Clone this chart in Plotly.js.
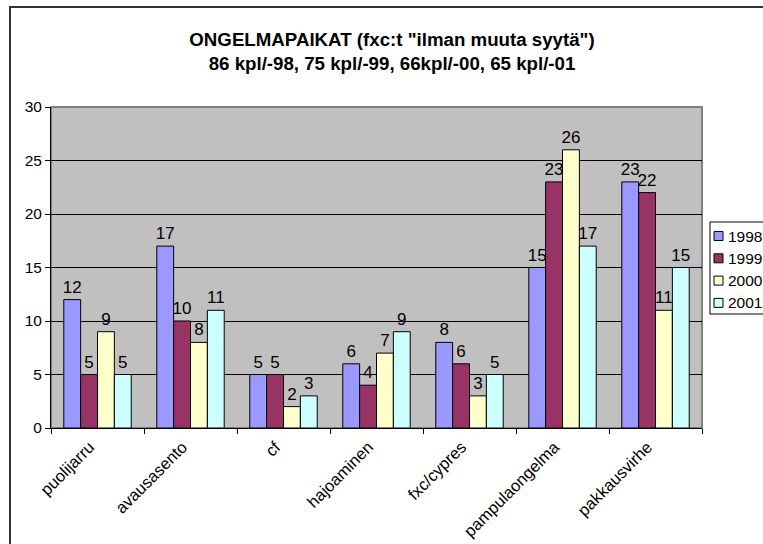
<!DOCTYPE html>
<html>
<head>
<meta charset="utf-8">
<script src="https://cdn.plot.ly/plotly-3.0.1.min.js"></script>
<style>
  html, body { margin: 0; padding: 0; background: #fff; overflow: hidden; }
  #frame { position: absolute; left: 9px; top: 6px; width: 900px; height: 700px; border: 2px solid #333; }
  #chart { position: absolute; left: 0; top: 0; width: 763px; height: 544px; }
</style>
</head>
<body>
<div id="frame"></div>
<div id="chart"></div>
<script>
const categories = ["puolijarru", "avausasento", "cf", "hajoaminen", "fxc/cypres", "pampulaongelma", "pakkausvirhe"];
const years = ["1998", "1999", "2000", "2001"];
const v1998 = [12, 17, 5, 6, 8, 15, 23];
const v1999 = [5, 10, 5, 4, 6, 23, 22];
const v2000 = [9, 8, 2, 7, 3, 26, 11];
const v2001 = [5, 11, 3, 9, 5, 17, 15];
const colors = ["#9999FF", "#993366", "#FFFFCC", "#CCFFFF"];
const yTicks = [0, 5, 10, 15, 20, 25, 30];

const series = [v1998, v1999, v2000, v2001];
const font = "Arial, 'Liberation Sans', sans-serif";

const traces = series.map((vals, i) => ({
  type: "bar",
  name: years[i],
  x: categories,
  y: vals,
  text: vals.map(String),
  textposition: "outside",
  constraintext: "none",
  cliponaxis: false,
  textfont: { family: font, size: 17, color: "#000" },
  outsidetextfont: { family: font, size: 17, color: "#000" },
  marker: { color: colors[i], line: { color: "#000", width: 1 } },
  showlegend: false,
  hoverinfo: "skip"
}));

const L = 51, R = 702, T = 107, B = 428;
const W = 763, H = 544;
const px = x => (x - L) / (R - L);
const py = y => (B - y) / (B - T);

const shapes = [
  { type: "rect", xref: "paper", yref: "paper", x0: 0, x1: 1, y0: 0, y1: 1,
    line: { color: "#808080", width: 2 }, fillcolor: "rgba(0,0,0,0)", layer: "below" },
  { type: "rect", xref: "paper", yref: "paper", x0: px(710), x1: px(820), y0: py(314), y1: py(222),
    line: { color: "#000", width: 1 }, fillcolor: "#fff", layer: "above" }
];
const annotations = [];
years.forEach((yr, i) => {
  const cy = 236 + i * 22.3;
  shapes.push({ type: "rect", xref: "paper", yref: "paper",
    x0: px(714), x1: px(723), y0: py(cy + 4.5), y1: py(cy - 4.5),
    line: { color: "#000", width: 1 }, fillcolor: colors[i], layer: "above" });
  annotations.push({ xref: "paper", yref: "paper", x: px(726), y: py(cy),
    xanchor: "left", yanchor: "middle", showarrow: false, text: yr,
    font: { family: font, size: 15.5, color: "#000" } });
});

const layout = {
  width: W, height: H,
  margin: { l: L, r: W - R, t: T, b: H - B, pad: 0 },
  paper_bgcolor: "rgba(0,0,0,0)",
  plot_bgcolor: "#C0C0C0",
  barmode: "group",
  bargap: 0.275,
  bargroupgap: 0,
  showlegend: false,
  title: {
    text: 'ONGELMAPAIKAT (fxc:t "ilman muuta syytä")<br>86 kpl/-98, 75 kpl/-99, 66kpl/-00, 65 kpl/-01',
    font: { family: font, size: 18.7, color: "#000", weight: "bold" },
    x: 392 / W, xanchor: "center", y: 1 - 46 / H, yanchor: "middle"
  },
  xaxis: {
    type: "category",
    showline: true, linecolor: "#000", linewidth: 1,
    ticks: "outside", ticklen: 5, tickcolor: "#000", tickson: "boundaries",
    tickangle: -45,
    ticklabelshift: -8, ticklabelstandoff: 2,
    tickfont: { family: font, size: 16.5, color: "#000" },
    showgrid: false, zeroline: false, fixedrange: true
  },
  yaxis: {
    range: [0, 30],
    tickvals: yTicks,
    showline: true, linecolor: "#000", linewidth: 1,
    ticks: "outside", ticklen: 5, tickcolor: "#000",
    tickfont: { family: font, size: 15.5, color: "#000" },
    showgrid: true, gridcolor: "#000", gridwidth: 1,
    zeroline: false, fixedrange: true
  },
  shapes: shapes,
  annotations: annotations
};

Plotly.newPlot("chart", traces, layout, { displayModeBar: false, staticPlot: true });
</script>
</body>
</html>
